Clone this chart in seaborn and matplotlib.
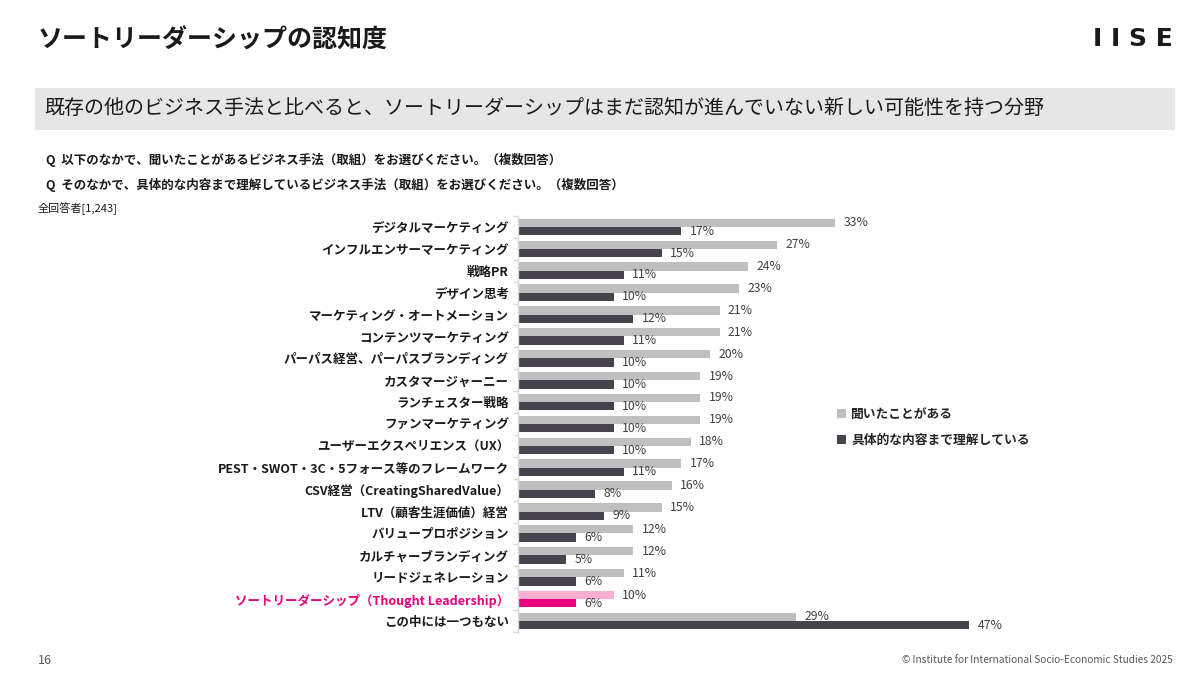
import matplotlib
matplotlib.use("Agg")
import matplotlib.pyplot as plt
from matplotlib.patches import Patch, Rectangle
import seaborn as sns
import pandas as pd
import numpy as np

categories = [
    "デジタルマーケティング",
    "インフルエンサーマーケティング",
    "戦略PR",
    "デザイン思考",
    "マーケティング・オートメーション",
    "コンテンツマーケティング",
    "パーパス経営、パーパスブランディング",
    "カスタマージャーニー",
    "ランチェスター戦略",
    "ファンマーケティング",
    "ユーザーエクスペリエンス（UX）",
    "PEST・SWOT・3C・5フォース等のフレームワーク",
    "CSV経営（CreatingSharedValue）",
    "LTV（顧客生涯価値）経営",
    "バリュープロポジション",
    "カルチャーブランディング",
    "リードジェネレーション",
    "ソートリーダーシップ（Thought Leadership）",
    "この中には一つもない",
]
heard = [33, 27, 24, 23, 21, 21, 20, 19, 19, 19, 18, 17, 16, 15, 12, 12, 11, 10, 29]
understood = [17, 15, 11, 10, 12, 11, 10, 10, 10, 10, 10, 11, 8, 9, 6, 5, 6, 6, 47]
series_names = ["聞いたことがある", "具体的な内容まで理解している"]
highlight = "ソートリーダーシップ（Thought Leadership）"

df = pd.DataFrame({
    "category": categories * 2,
    "value": heard + understood,
    "series": [series_names[0]] * len(categories) + [series_names[1]] * len(categories),
})

sns.set_theme(style="white")
plt.rcParams["font.family"] = ["Noto Sans CJK JP", "DejaVu Sans"]

GRAY = "#BFBFBF"
DARK = "#46434F"
PINK_L = "#F9AED2"
PINK = "#E8007D"

fig = plt.figure(figsize=(12, 6.75), dpi=100)
ax = fig.add_axes([0.4317, 0.0637, 0.40, 0.6163])

sns.barplot(data=df, y="category", x="value", hue="series", order=categories,
            hue_order=series_names, palette=[GRAY, DARK], orient="h",
            width=0.76, ax=ax, legend=False, saturation=1, linewidth=0,
            edgecolor="none")

hi = categories.index(highlight)
ax.containers[0][hi].set_facecolor(PINK_L)
ax.containers[1][hi].set_facecolor(PINK)

for cont in ax.containers:
    ax.bar_label(cont, fmt="%d%%", padding=6, fontsize=8.8, color="#404040")

ax.set_xlim(0, 50)
ax.set_ylim(len(categories) - 0.5, -0.5)
ax.set_xlabel("")
ax.set_ylabel("")
ax.set_xticks([])
for s in ["top", "right", "bottom"]:
    ax.spines[s].set_visible(False)
ax.spines["left"].set_color("#D9D9D9")
ax.spines["left"].set_linewidth(1)

ax.tick_params(axis="y", which="major", length=0, pad=6.5, labelsize=9.0)
ax.set_yticks(np.arange(-0.5, len(categories), 1), minor=True)
ax.tick_params(axis="y", which="minor", left=True, length=3.5, color="#D9D9D9", width=1)
for lbl in ax.get_yticklabels():
    lbl.set_fontweight("bold")
    lbl.set_color("#1A1A1A")
    if lbl.get_text() == highlight:
        lbl.set_color(PINK)

# Legend
handles = [Patch(facecolor=GRAY, edgecolor="none"), Patch(facecolor=DARK, edgecolor="none")]
leg = fig.legend(handles, series_names, loc="upper left", bbox_to_anchor=(0.688, 0.413),
                 frameon=False, handlelength=0.7, handleheight=0.7, handletextpad=0.4,
                 labelspacing=1.05, prop={"size": 9.2, "weight": "bold"})

# Titles and texts
fig.text(0.031, 0.940, "ソートリーダーシップの認知度", fontsize=18, fontweight="bold",
         color="#1A1A1A", va="center", ha="left")
fig.text(0.977, 0.942, "I I S E", fontsize=18, fontweight="bold", color="#1A1A1A",
         va="center", ha="right", family=["DejaVu Sans"])
fig.patches.append(Rectangle((0.029, 0.807), 0.950, 0.063, transform=fig.transFigure,
                             facecolor="#E6E6E6", edgecolor="none", zorder=0))
fig.text(0.037, 0.839, "既存の他のビジネス手法と比べると、ソートリーダーシップはまだ認知が進んでいない新しい可能性を持つ分野",
         fontsize=14.4, color="#1A1A1A", va="center", ha="left")
fig.text(0.038, 0.763, "Q  以下のなかで、聞いたことがあるビジネス手法（取組）をお選びください。（複数回答）",
         fontsize=9.0, fontweight="bold", color="#1A1A1A", va="center", ha="left")
fig.text(0.038, 0.726, "Q  そのなかで、具体的な内容まで理解しているビジネス手法（取組）をお選びください。（複数回答）",
         fontsize=9.0, fontweight="bold", color="#1A1A1A", va="center", ha="left")
fig.text(0.031, 0.691, "全回答者[1,243]", fontsize=8, color="#1A1A1A", va="center", ha="left")
fig.text(0.032, 0.022, "16", fontsize=9, color="#595959", va="center", ha="left")
fig.text(0.977, 0.022, "© Institute for International Socio-Economic Studies 2025", fontsize=7.3,
         color="#595959", va="center", ha="right")

fig.savefig("out.png", dpi=100)
